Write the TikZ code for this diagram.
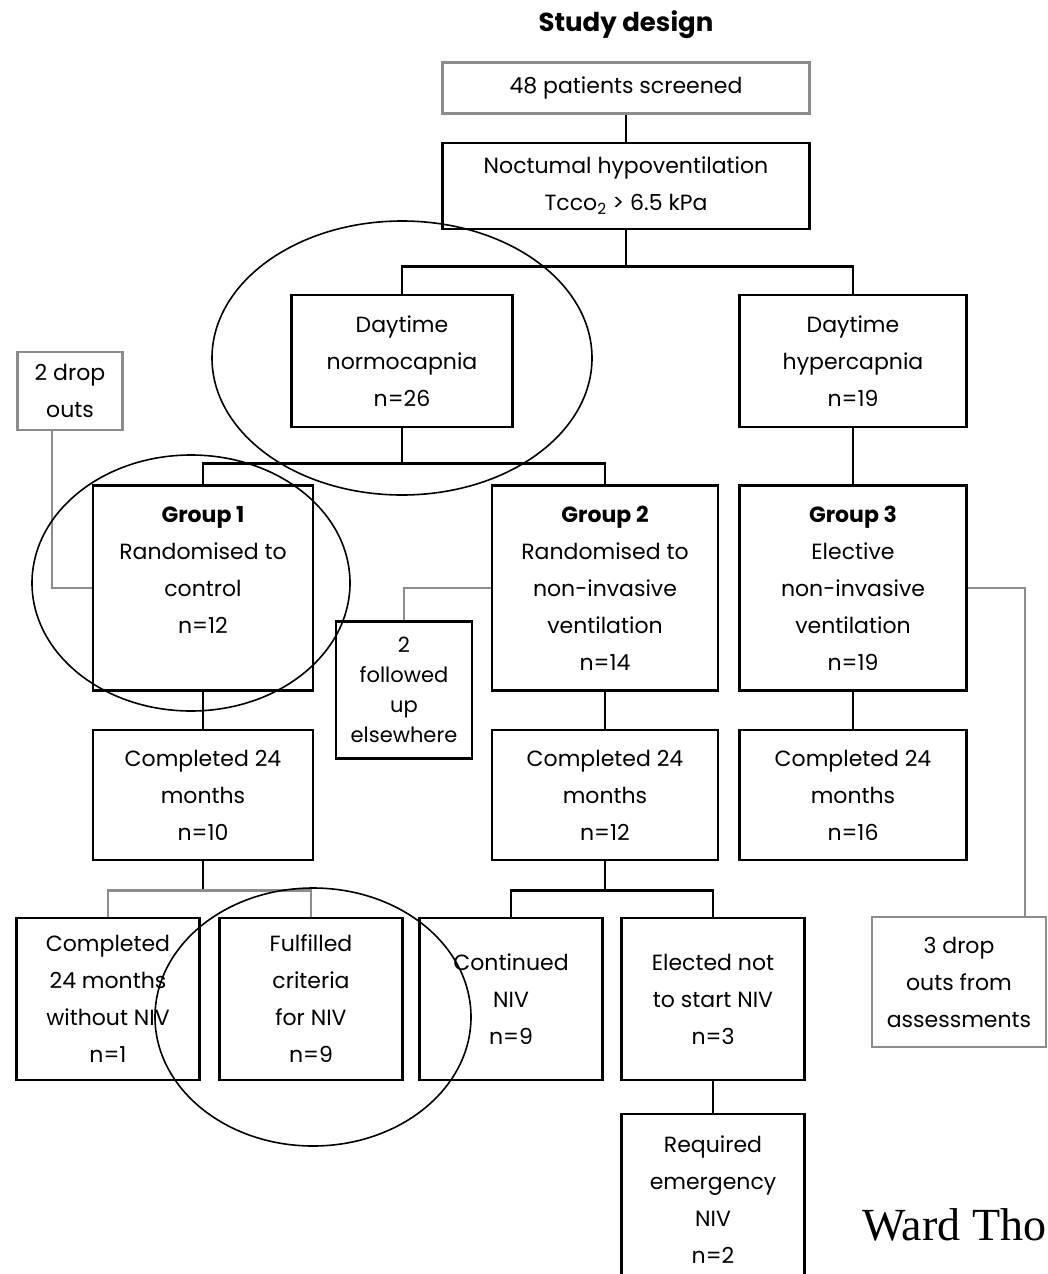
\documentclass[tikz,border=0pt]{standalone}
\usepackage{fontspec}
\setmainfont{Poppins}
\newfontfamily\wardfont{Liberation Serif}
\usetikzlibrary{positioning, calc}

\begin{document}
\begin{tikzpicture}[x=1pt, y=-1pt,
  box/.style={rectangle, draw=black, line width=2.6pt, fill=none,
              align=center, inner sep=0pt,
              font=\fontsize{22}{37}\selectfont},
  gbox/.style={box, draw=black!45},
  link/.style={line width=2.6pt, black},
  glink/.style={line width=2.6pt, black!45},
  ring/.style={line width=1.6pt, black}
]
\useasboundingbox (0,0) rectangle (1048,1274);
\node[font=\fontsize{26}{30}\selectfont\bfseries] (title) at (626,25) {Study design};
%% TOP: screening
\node[gbox, minimum width=367pt, minimum height=51pt]  (screen) at (626,88)  {48 patients screened};
\node[box,  minimum width=367pt, minimum height=86pt]  (noct)   at (626,186) {Noctumal hypoventilation\\Tcco\textsubscript{2} > 6.5 kPa};
\draw[link] (screen.south)--(noct.north);
%% ROW 2: daytime CO2
\node[box, minimum width=221pt, minimum height=132pt] (normo) at (402,361) {Daytime\\normocapnia\\n=26};
\node[box, minimum width=227pt, minimum height=132pt] (hyper) at (853,361) {Daytime\\hypercapnia\\n=19};
\node[gbox, minimum width=105pt, minimum height=78pt] (drop1) at (70,391) {2 drop\\outs};
\draw[link] (noct.south) -- ++(0,36) coordinate (split1);
\draw[link] (split1) -| (normo.north);
\draw[link] (split1) -| (hyper.north);
%% ROW 3: groups
\node[box, minimum width=220pt, minimum height=205pt] (grp1) at (203,588) {\textbf{Group 1}\\Randomised to\\control\\n=12\\\mbox{}};
\node[box, minimum width=226pt, minimum height=205pt] (grp2) at (605,588) {\textbf{Group 2}\\Randomised to\\non-invasive\\ventilation\\n=14};
\node[box, minimum width=227pt, minimum height=205pt] (grp3) at (853,588) {\textbf{Group 3}\\Elective\\non-invasive\\ventilation\\n=19};
\node[box, minimum width=136pt, minimum height=137pt, font=\fontsize{21}{30}\selectfont] (follow) at (404,690) {2\\followed\\up\\elsewhere};
\node[gbox, minimum width=174pt, minimum height=130pt] (drop3) at (959,982) {3 drop\\outs from\\assessments};
\draw[link] (normo.south) -- ++(0,35) coordinate (split2);
\draw[link] (split2) -| (grp1.north);
\draw[link] (split2) -| (grp2.north);
\draw[link] (hyper.south)--(grp3.north);
\draw[glink] ([xshift=-18pt]drop1.south) |- (grp1.west);
\draw[glink] (grp2.west) -| (follow.north);
\draw[glink] (grp3.east) -| ([xshift=66pt]drop3.north);
%% ROW 4: 24 months
\node[box, minimum width=220pt, minimum height=130pt] (comp1) at (203,795) {Completed 24\\months\\n=10};
\node[box, minimum width=226pt, minimum height=130pt] (comp2) at (605,795) {Completed 24\\months\\n=12};
\node[box, minimum width=227pt, minimum height=130pt] (comp3) at (853,795) {Completed 24\\months\\n=16};
\draw[link] (grp1.south)--(comp1.north);
\draw[link] (grp2.south)--(comp2.north);
\draw[link] (grp3.south)--(comp3.north);
%% ROW 5: outcomes
\node[box, minimum width=183pt, minimum height=162pt] (noniv)  at (108,999) {Completed\\24 months\\without NIV\\n=1};
\node[box, minimum width=183pt, minimum height=162pt] (fulfil) at (311,999) {Fulfilled\\criteria\\for NIV\\n=9};
\node[box, minimum width=183pt, minimum height=162pt] (contin) at (511,999) {Continued\\NIV\\n=9};
\node[box, minimum width=183pt, minimum height=162pt] (elect)  at (713,999) {Elected not\\to start NIV\\n=3};
\node[box, minimum width=183pt, minimum height=172pt] (emerg)  at (713,1200) {Required\\emergency\\NIV\\n=2};
\draw[link] (comp1.south) -- ++(0,29) coordinate (split3);
\draw[glink] (split3) -| (noniv.north);
\draw[glink] (split3) -| (fulfil.north);
\draw[link] (comp2.south) -- ++(0,29) coordinate (split4);
\draw[link] (split4) -| (contin.north);
\draw[link] (split4) -| (elect.north);
\draw[link] (elect.south)--(emerg.north);
%% hand-drawn rings
\draw[ring] (402,358) ellipse [x radius=190pt, y radius=137pt];
\draw[ring] (191,583) ellipse [x radius=159pt, y radius=128pt];
\draw[ring] (313,1017) ellipse [x radius=158pt, y radius=129pt];
\node[anchor=base west, inner sep=0pt, font=\wardfont\fontsize{46}{50}\selectfont] (ward) at (862,1240) {Ward Tho};
\end{tikzpicture}
\end{document}
